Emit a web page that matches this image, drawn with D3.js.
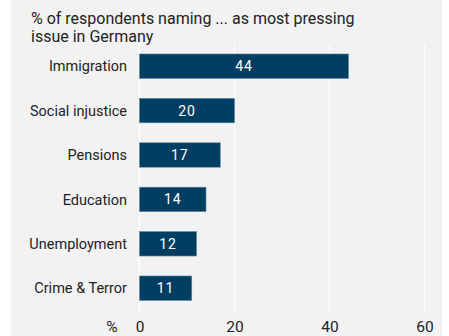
<!DOCTYPE html>
<html>
<head>
<meta charset="utf-8">
<script src="https://cdn.jsdelivr.net/npm/d3@7"></script>
<style>
  body { margin: 0; background: #fff; }
  svg text { font-family: Roboto, "Liberation Sans", sans-serif; }
</style>
</head>
<body>
<div id="chart"></div>
<script>
// data
var issues = ["Immigration", "Social injustice", "Pensions", "Education", "Unemployment", "Crime & Terror"];
var shares = [44, 20, 17, 14, 12, 11];
var ticks = [0, 20, 40, 60];

var width = 449,
    height = 336,
    margin = {top: 44, right: 25, bottom: 23, left: 139.5};

var svg = d3.select("#chart").append("svg")
  .attr("width", width)
  .attr("height", height);

// grey panel
svg.append("rect")
  .attr("x", 11).attr("y", 0)
  .attr("width", 431).attr("height", height)
  .attr("fill", "#f2f2f2");

var x = d3.scaleLinear()
  .domain([0, 60])
  .range([margin.left, 424.5]);

var y = d3.scaleBand()
  .domain(issues)
  .range([margin.top, margin.top + 6 * 44.4])
  .paddingInner(0.45)
  .paddingOuter(0.225);

// gridlines
svg.selectAll("line.grid")
  .data(ticks)
  .enter().append("line")
  .attr("class", "grid")
  .attr("x1", d => x(d)).attr("x2", d => x(d))
  .attr("y1", margin.top).attr("y2", 313)
  .attr("stroke", "#fff")
  .attr("stroke-width", 1.2);

// bars
svg.selectAll("rect.bar")
  .data(shares)
  .enter().append("rect")
  .attr("class", "bar")
  .attr("x", x(0))
  .attr("y", (d, i) => y(issues[i]))
  .attr("width", d => x(d) - x(0))
  .attr("height", y.bandwidth())
  .attr("fill", "#023e62")
  .attr("stroke", "#5b87a6")
  .attr("stroke-width", 0.6);

// values in bars
svg.selectAll("text.val")
  .data(shares)
  .enter().append("text")
  .attr("class", "val")
  .attr("x", d => (x(d) + x(0)) / 2)
  .attr("y", (d, i) => y(issues[i]) + y.bandwidth() / 2)
  .attr("dy", "0.36em")
  .attr("text-anchor", "middle")
  .attr("fill", "#fff")
  .style("font-size", "14px")
  .style("letter-spacing", "1px")
  .text(d => d);

// category labels
svg.selectAll("text.cat")
  .data(issues)
  .enter().append("text")
  .attr("class", "cat")
  .attr("x", 127)
  .attr("y", d => y(d) + y.bandwidth() / 2)
  .attr("dy", "0.36em")
  .attr("text-anchor", "end")
  .attr("fill", "#222")
  .style("font-size", "14.5px")
  .text(d => d);

// x axis
var xAxis = svg.append("g")
  .attr("transform", "translate(0,0)")
  .call(d3.axisBottom(x).tickValues(ticks).tickSize(0).tickPadding(0));
xAxis.select(".domain").remove();
xAxis.selectAll("text")
  .attr("y", 331.5)
  .attr("dy", null)
  .attr("fill", "#222")
  .style("font-size", "15.5px")
  .style("font-family", "Roboto, sans-serif");

svg.append("text")
  .attr("x", 112)
  .attr("y", 331.5)
  .attr("text-anchor", "middle")
  .attr("fill", "#222")
  .style("font-size", "15.5px")
  .text("%");

// title
var title = svg.append("text")
  .attr("x", 31)
  .attr("fill", "#222")
  .style("font-size", "16px");
title.append("tspan").attr("x", 31).attr("y", 24).text("% of respondents naming ... as most pressing");
title.append("tspan").attr("x", 31).attr("y", 42).text("issue in Germany");
</script>
</body>
</html>
